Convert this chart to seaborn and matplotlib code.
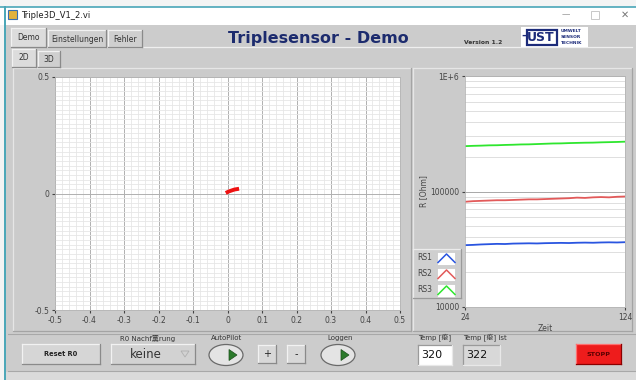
import matplotlib
matplotlib.use("Agg")
import numpy as np
import pandas as pd
import seaborn as sns
import matplotlib.pyplot as plt
from matplotlib.patches import Rectangle, FancyBboxPatch, Ellipse, Polygon
from matplotlib.path import Path
from matplotlib.ticker import MultipleLocator, FixedLocator, FixedFormatter, LogLocator, NullFormatter, FuncFormatter

# ---------------- data ----------------
xy_x = [0.000, 0.004, 0.008, 0.012, 0.016, 0.020, 0.024, 0.028]
xy_y = [0.006, 0.009, 0.011, 0.013, 0.015, 0.017, 0.018, 0.019]

zeit = [24, 29, 34, 39, 44, 49, 54, 59, 64, 69, 74, 79, 84, 89, 94, 99, 104, 109, 114, 119, 124]
rs1 = [34300, 34500, 34800, 35000, 35200, 35100, 35400, 35500, 35600, 35500, 35700,
       35800, 35900, 35800, 36000, 36100, 36000, 36200, 36300, 36200, 36400]
rs2 = [81500, 82500, 83000, 83500, 84000, 84000, 84500, 85000, 85500, 85500, 86000,
       86500, 87000, 87500, 88500, 88000, 89000, 89500, 89000, 90000, 90500]
rs3 = [247000, 248500, 249500, 251000, 251500, 253000, 254000, 255500, 256000, 257500, 259000,
       260500, 261000, 262500, 263500, 264500, 265000, 266500, 267500, 268500, 270000]
sensor_names = ["RS1", "RS2", "RS3"]
sensor_colors = ["#2a55e0", "#e25a5a", "#2ee62e"]

xy_ticks = [-0.5, -0.4, -0.3, -0.2, -0.1, 0, 0.1, 0.2, 0.3, 0.4, 0.5]
xy_yticks = [-0.5, 0, 0.5]
r_ticks = [1e4, 1e5, 1e6]
r_tick_labels = ["10000", "100000", "1E+6"]
zeit_ticks = [24, 124]

deg = bytes([0xB0, 0x43]).decode("gbk", errors="replace")
ue = bytes([0xFC, 0x68]).decode("gbk", errors="replace")
label_nachf = "R0 Nachf" + ue + "rung"
label_temp = "Temp [" + deg + "]"
label_temp_ist = "Temp [" + deg + "] Ist"
temp_soll = "320"
temp_ist = "322"

# ---------------- figure ----------------
plt.rcParams["font.family"] = ["DejaVu Sans", "Noto Sans CJK SC"]
W, H = 636, 380
fig = plt.figure(figsize=(W / 100, H / 100), dpi=100, facecolor="#f4f4f4")

def fx(x): return x / W
def fy(y): return 1 - y / H

def rect(x0, y0, x1, y1, fc, ec="none", lw=0.8, z=1):
    fig.add_artist(Rectangle((fx(x0), fy(y1)), (x1 - x0) / W, (y1 - y0) / H,
                             transform=fig.transFigure, facecolor=fc, edgecolor=ec, lw=lw, zorder=z))

def bevel(x0, y0, x1, y1, fc, light="#f2f2f2", dark="#8a8a8a", z=2):
    rect(x0, y0, x1, y1, fc, z=z)
    fig.add_artist(plt.Line2D([fx(x0), fx(x1)], [fy(y0), fy(y0)], color=light, lw=0.9, transform=fig.transFigure, zorder=z + 0.1))
    fig.add_artist(plt.Line2D([fx(x0), fx(x0)], [fy(y0), fy(y1)], color=light, lw=0.9, transform=fig.transFigure, zorder=z + 0.1))
    fig.add_artist(plt.Line2D([fx(x0), fx(x1)], [fy(y1), fy(y1)], color=dark, lw=0.9, transform=fig.transFigure, zorder=z + 0.1))
    fig.add_artist(plt.Line2D([fx(x1), fx(x1)], [fy(y0), fy(y1)], color=dark, lw=0.9, transform=fig.transFigure, zorder=z + 0.1))

def txt(x, y, s, **kw):
    kw.setdefault("zorder", 5)
    fig.text(fx(x), fy(y), s, **kw)

# window
rect(0, 7, W, 25, "#ffffff", z=0.5)
fig.add_artist(plt.Line2D([0, 1], [fy(7), fy(7)], color="#4aa6b8", lw=1.2, transform=fig.transFigure))
rect(5, 25, W, 372, "#cccccc", z=0.5)
rect(5, 372, W, H, "#dadada", z=0.5)
fig.add_artist(plt.Line2D([fx(5), fx(5)], [fy(7), 0], color="#4aa6b8", lw=1.4, transform=fig.transFigure))

# title bar
rect(8, 10, 17, 19, "#e3b23c", ec="#3a6fb0", lw=0.8, z=2)
txt(21, 15, "Triple3D_V1_2.vi", fontsize=6, va="center", ha="left", color="#202020")
txt(566, 15, "\u2014", fontsize=6, va="center", ha="center", color="#9a9a9a")
rect(591, 11, 599, 19, "none", ec="#c8c8c8", lw=0.7, z=2)
txt(625, 15, "\u2715", fontsize=7, va="center", ha="center", color="#777777")

# tabs
bevel(11, 28, 46, 47, "#dcdcdc")
txt(28.5, 38, "Demo", fontsize=5.5, ha="center", va="center", color="#333333")
bevel(48, 30, 106, 47, "#cfcfcf")
txt(77, 39, "Einstellungen", fontsize=5.5, ha="center", va="center", color="#333333")
bevel(108, 30, 142, 47, "#cfcfcf")
txt(125, 39, "Fehler", fontsize=5.5, ha="center", va="center", color="#333333")
fig.add_artist(plt.Line2D([fx(46), fx(632)], [fy(47), fy(47)], color="#efefef", lw=0.9, transform=fig.transFigure))
bevel(12, 49, 36, 67, "#dcdcdc")
txt(24, 58, "2D", fontsize=5.5, ha="center", va="center", color="#333333")
bevel(38, 51, 60, 67, "#cfcfcf")
txt(49, 59.5, "3D", fontsize=5.5, ha="center", va="center", color="#333333")

# header texts
txt(318, 39, "Triplesensor - Demo", fontsize=11.5, fontweight="bold", ha="center", va="center", color="#1c2b6e")
txt(483, 42, "Version 1.2", fontsize=4.3, fontweight="bold", ha="center", va="center", color="#333333")
rect(521, 27, 588, 47, "#ffffff", z=2)
rect(527, 30, 557, 45, "none", ec="#1c2b7a", lw=1.6, z=3)
txt(541, 37.5, "UST", fontsize=9, fontweight="bold", ha="center", va="center", color="#1c2b7a")
txt(524, 36, "-", fontsize=8, fontweight="bold", ha="center", va="center", color="#1c2b7a")
for i, w in enumerate(["UMWELT", "SENSOR", "TECHNIK"]):
    txt(561, 31.5 + i * 5.5, w, fontsize=3.2, fontweight="bold", ha="left", va="center", color="#1c2b7a")

# plot panels
bevel(13, 68, 411, 331, "#cbcbcb", light="#e6e6e6", dark="#a4a4a4", z=1)
bevel(413, 68, 632, 331, "#cbcbcb", light="#e6e6e6", dark="#a4a4a4", z=1)

# ---------------- left XY plot ----------------
ax1 = fig.add_axes([fx(55), fy(310), (400 - 55) / W, (310 - 77) / H])
ax1.set_zorder(10)
ax1.set_facecolor("white")
sns.lineplot(x=xy_x, y=xy_y, sort=False, color="#ee1111", lw=2.8, ax=ax1, estimator=None)
ax1.set_xlim(-0.5, 0.5)
ax1.set_ylim(-0.5, 0.5)
ax1.xaxis.set_major_locator(FixedLocator(xy_ticks))
ax1.yaxis.set_major_locator(FixedLocator(xy_yticks))
ax1.xaxis.set_minor_locator(MultipleLocator(0.02))
ax1.yaxis.set_minor_locator(MultipleLocator(0.02))
fmt = FuncFormatter(lambda v, p: "0" if abs(v) < 1e-9 else f"{v:g}")
ax1.xaxis.set_major_formatter(fmt)
ax1.yaxis.set_major_formatter(fmt)
ax1.grid(which="minor", color="#e6e6e6", lw=0.6)
ax1.grid(which="major", color="#b0b0b0", lw=0.7)
ax1.set_axisbelow(True)
ax1.tick_params(which="major", length=2.5, labelsize=5.5, pad=1.5, colors="#444444")
ax1.tick_params(which="minor", length=0)
for s in ax1.spines.values():
    s.set_color("#b5b5b5")
    s.set_linewidth(0.6)
ax1.set_xlabel("")
ax1.set_ylabel("")

# ---------------- right time plot ----------------
ax2 = fig.add_axes([fx(465), fy(307), (625 - 465) / W, (307 - 76) / H])
ax2.set_zorder(10)
ax2.set_facecolor("white")
df = pd.DataFrame({
    "Zeit": zeit * 3,
    "R": rs1 + rs2 + rs3,
    "Sensor": [n for n in sensor_names for _ in zeit],
})
sns.lineplot(data=df, x="Zeit", y="R", hue="Sensor", palette=dict(zip(sensor_names, sensor_colors)),
             lw=1.3, legend=False, ax=ax2, estimator=None)
ax2.set_yscale("log")
ax2.set_ylim(1e4, 1e6)
ax2.set_xlim(24, 124)
ax2.yaxis.set_major_locator(FixedLocator(r_ticks))
ax2.yaxis.set_major_formatter(FixedFormatter(r_tick_labels))
ax2.yaxis.set_minor_locator(LogLocator(base=10, subs=np.arange(2, 10)))
ax2.yaxis.set_minor_formatter(NullFormatter())
ax2.xaxis.set_major_locator(FixedLocator(zeit_ticks))
ax2.grid(which="minor", axis="y", color="#dedede", lw=0.7)
ax2.grid(which="major", axis="y", color="#a8a8a8", lw=0.7)
ax2.set_axisbelow(True)
ax2.tick_params(which="major", length=2.5, labelsize=5.5, pad=1.5, colors="#444444")
ax2.tick_params(which="minor", length=0)
for s in ax2.spines.values():
    s.set_color("#b5b5b5")
    s.set_linewidth(0.6)
ax2.set_xlabel("Zeit", fontsize=5.5, color="#444444", labelpad=2)
ax2.set_ylabel("R [Ohm]", fontsize=5.5, color="#444444", labelpad=-4)
ax2.yaxis.set_label_coords(-0.23, 0.5)

# legend box
bevel(413, 249, 461, 298, "#cfcfcf", light="#ececec", dark="#9a9a9a", z=3)
chev = Path([(-1, -0.5), (0, 0.5), (1, -0.5)], [Path.MOVETO, Path.LINETO, Path.LINETO])
for i, (n, c) in enumerate(zip(sensor_names, sensor_colors)):
    yc = 258 + i * 16
    txt(425, yc, n, fontsize=5.5, ha="center", va="center", color="#444444", zorder=6)
    rect(437, yc - 6.5, 455, yc + 6.5, "white", ec="#c8c8c8", lw=0.5, z=4)
    fig.add_artist(plt.Line2D([fx(446)], [fy(yc)], marker=chev, markersize=13, color=c,
                              markerfacecolor="none", markeredgewidth=1.1, ls="none",
                              transform=fig.transFigure, zorder=6))

# ---------------- bottom controls ----------------
fig.add_artist(plt.Line2D([fx(8), 1], [fy(334), fy(334)], color="#a8a8a8", lw=0.8, transform=fig.transFigure))
fig.add_artist(plt.Line2D([fx(8), 1], [fy(371), fy(371)], color="#a8a8a8", lw=0.8, transform=fig.transFigure))

bevel(22, 344, 100, 364, "#d6d6d6")
txt(61, 354, "Reset R0", fontsize=4.8, fontweight="bold", ha="center", va="center", color="#222222")

txt(148, 338, label_nachf, fontsize=5, ha="center", va="center", color="#333333")
bevel(111, 344, 195, 364, "#d2d2d2")
txt(146, 354.5, "keine", fontsize=8.5, ha="center", va="center", color="#333333")
fig.add_artist(Polygon([[fx(181), fy(351)], [fx(189), fy(351)], [fx(185), fy(357)]], closed=True,
                       facecolor="none", edgecolor="#b0b0b0", lw=0.6, transform=fig.transFigure, zorder=5))

def toggle(cx, cy):
    fig.add_artist(Ellipse((fx(cx), fy(cy)), 34 / W, 21 / H, facecolor="#e4e4e4", edgecolor="#6a6a6a",
                           lw=0.9, transform=fig.transFigure, zorder=4))
    fig.add_artist(Polygon([[fx(cx + 3), fy(cy - 5.5)], [fx(cx + 3), fy(cy + 5.5)], [fx(cx + 11), fy(cy)]],
                           closed=True, facecolor="#2b7a2b", edgecolor="#1d4f1d", lw=0.5,
                           transform=fig.transFigure, zorder=5))

txt(227, 338, "AutoPilot", fontsize=5, ha="center", va="center", color="#333333")
toggle(226, 355)
bevel(258, 345, 276, 363, "#d8d8d8")
txt(267, 354, "+", fontsize=7, ha="center", va="center", color="#222222")
bevel(287, 345, 305, 363, "#d8d8d8")
txt(296, 354, "-", fontsize=7, ha="center", va="center", color="#222222")
txt(340, 338, "Loggen", fontsize=5, ha="center", va="center", color="#333333")
toggle(338, 355)

txt(418, 338, label_temp, fontsize=5, ha="left", va="center", color="#333333")
bevel(418, 345, 452, 365, "#ffffff", light="#9a9a9a", dark="#e8e8e8")
txt(421, 355, temp_soll, fontsize=8, ha="left", va="center", color="#111111")
txt(463, 338, label_temp_ist, fontsize=5, ha="left", va="center", color="#333333")
bevel(463, 345, 500, 365, "#d8d8d8", light="#9a9a9a", dark="#e8e8e8")
txt(466, 355, temp_ist, fontsize=8, ha="left", va="center", color="#111111")

bevel(576, 344, 621, 364, "#ee1c1c", light="#ff7070", dark="#8a0000")
txt(598.5, 354, "STOPP", fontsize=4.6, fontweight="bold", ha="center", va="center", color="#5a0000")

fig.savefig("out.png", dpi=100, facecolor=fig.get_facecolor())
